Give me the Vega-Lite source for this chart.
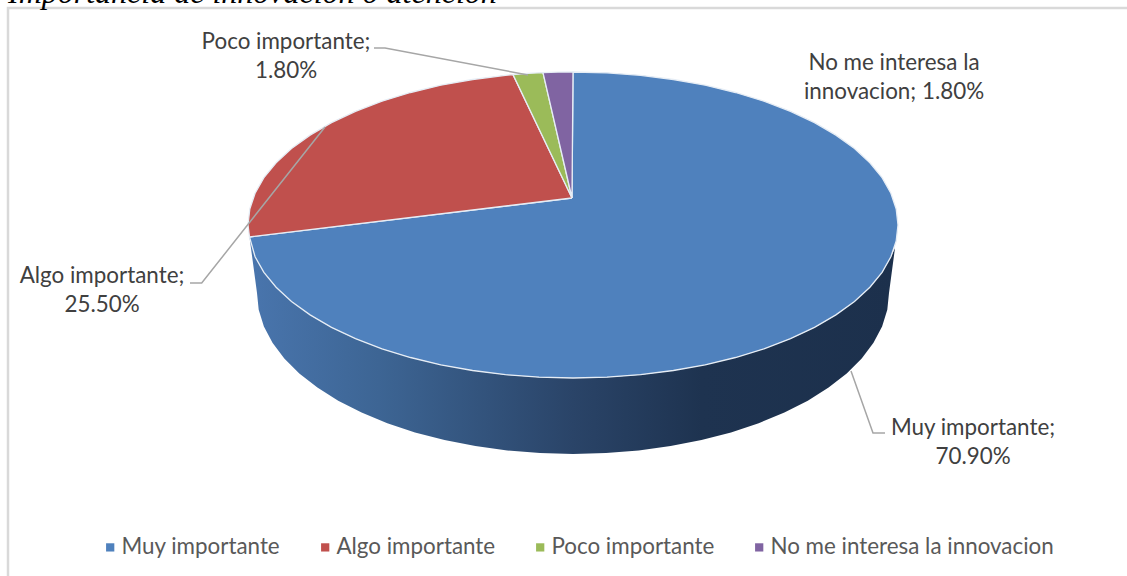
{
  "$schema": "https://vega.github.io/schema/vega-lite/v6.json",
  "description": "Importancia de innovación o atención: tilted pie with a shaded side wall, drawn as outlines in chart units",
  "width": 1127,
  "height": 576,
  "autosize": "none",
  "padding": 0,
  "background": "white",
  "config": {"view": {"stroke": null}},
  "datasets": {
    "frame": [{"left": 8, "right": 1140, "top": 8, "bottom": 600}],
    "wall": [
      {"n":1,"x":895,"y":248},{"n":2,"x":890.9,"y":256.8},{"n":3,"x":882.1,"y":272.3},{"n":4,"x":869.9,"y":287.2},{"n":5,"x":854.5,"y":301.5},{"n":6,"x":835.9,"y":314.9},{"n":7,"x":814.5,"y":327.4},{"n":8,"x":790.5,"y":338.7},{"n":9,"x":764,"y":348.8},{"n":10,"x":735.5,"y":357.5},{"n":11,"x":705.2,"y":364.8},{"n":12,"x":673.4,"y":370.5},{"n":13,"x":640.6,"y":374.7},{"n":14,"x":607,"y":377.2},{"n":15,"x":573,"y":378},{"n":16,"x":539,"y":377.2},{"n":17,"x":505.4,"y":374.7},{"n":18,"x":472.6,"y":370.5},{"n":19,"x":440.8,"y":364.8},{"n":20,"x":410.5,"y":357.5},{"n":21,"x":382,"y":348.8},{"n":22,"x":355.5,"y":338.7},{"n":23,"x":331.5,"y":327.4},{"n":24,"x":310.1,"y":314.9},{"n":25,"x":291.5,"y":301.5},{"n":26,"x":276.1,"y":287.2},{"n":27,"x":263.9,"y":272.3},{"n":28,"x":255.1,"y":256.8},{"n":29,"x":249.5,"y":237},
      {"n":30,"x":257,"y":293},{"n":31,"x":258.7,"y":309.8},{"n":32,"x":263.9,"y":326.5},{"n":33,"x":272.5,"y":342.7},{"n":34,"x":284.3,"y":358.5},{"n":35,"x":299.3,"y":373.5},{"n":36,"x":317.4,"y":387.6},{"n":37,"x":338.2,"y":400.7},{"n":38,"x":361.6,"y":412.6},{"n":39,"x":387.3,"y":423.2},{"n":40,"x":415,"y":432.4},{"n":41,"x":444.5,"y":440.1},{"n":42,"x":475.4,"y":446.1},{"n":43,"x":507.3,"y":450.5},{"n":44,"x":540,"y":453.1},{"n":45,"x":573,"y":454},{"n":46,"x":606,"y":453.1},{"n":47,"x":638.7,"y":450.5},{"n":48,"x":670.6,"y":446.1},{"n":49,"x":701.5,"y":440.1},{"n":50,"x":731,"y":432.4},{"n":51,"x":758.7,"y":423.2},{"n":52,"x":784.4,"y":412.6},{"n":53,"x":807.8,"y":400.7},{"n":54,"x":828.6,"y":387.6},{"n":55,"x":846.7,"y":373.5},{"n":56,"x":861.7,"y":358.5},{"n":57,"x":873.5,"y":342.7},{"n":58,"x":882.1,"y":326.5},{"n":59,"x":887.3,"y":309.8},{"n":60,"x":889,"y":293},{"n":61,"x":895,"y":248}
    ],
    "slices": [
      {"slice":"Muy importante","n":0,"x":572,"y":198},{"slice":"Muy importante","n":1,"x":573,"y":72},{"slice":"Muy importante","n":2,"x":607,"y":72.8},{"slice":"Muy importante","n":3,"x":640.6,"y":75.3},{"slice":"Muy importante","n":4,"x":673.4,"y":79.5},{"slice":"Muy importante","n":5,"x":705.2,"y":85.2},{"slice":"Muy importante","n":6,"x":735.5,"y":92.5},{"slice":"Muy importante","n":7,"x":764,"y":101.2},{"slice":"Muy importante","n":8,"x":790.5,"y":111.3},{"slice":"Muy importante","n":9,"x":814.5,"y":122.6},{"slice":"Muy importante","n":10,"x":835.9,"y":135.1},{"slice":"Muy importante","n":11,"x":854.5,"y":148.5},{"slice":"Muy importante","n":12,"x":869.9,"y":162.8},{"slice":"Muy importante","n":13,"x":882.1,"y":177.7},{"slice":"Muy importante","n":14,"x":890.9,"y":193.2},{"slice":"Muy importante","n":15,"x":896.2,"y":209},{"slice":"Muy importante","n":16,"x":898,"y":225},{"slice":"Muy importante","n":17,"x":896.2,"y":241},{"slice":"Muy importante","n":18,"x":890.9,"y":256.8},{"slice":"Muy importante","n":19,"x":882.1,"y":272.3},{"slice":"Muy importante","n":20,"x":869.9,"y":287.2},{"slice":"Muy importante","n":21,"x":854.5,"y":301.5},{"slice":"Muy importante","n":22,"x":835.9,"y":314.9},{"slice":"Muy importante","n":23,"x":814.5,"y":327.4},{"slice":"Muy importante","n":24,"x":790.5,"y":338.7},{"slice":"Muy importante","n":25,"x":764,"y":348.8},{"slice":"Muy importante","n":26,"x":735.5,"y":357.5},{"slice":"Muy importante","n":27,"x":705.2,"y":364.8},{"slice":"Muy importante","n":28,"x":673.4,"y":370.5},{"slice":"Muy importante","n":29,"x":640.6,"y":374.7},{"slice":"Muy importante","n":30,"x":607,"y":377.2},{"slice":"Muy importante","n":31,"x":573,"y":378},{"slice":"Muy importante","n":32,"x":539,"y":377.2},{"slice":"Muy importante","n":33,"x":505.4,"y":374.7},{"slice":"Muy importante","n":34,"x":472.6,"y":370.5},{"slice":"Muy importante","n":35,"x":440.8,"y":364.8},{"slice":"Muy importante","n":36,"x":410.5,"y":357.5},{"slice":"Muy importante","n":37,"x":382,"y":348.8},{"slice":"Muy importante","n":38,"x":355.5,"y":338.7},{"slice":"Muy importante","n":39,"x":331.5,"y":327.4},{"slice":"Muy importante","n":40,"x":310.1,"y":314.9},{"slice":"Muy importante","n":41,"x":291.5,"y":301.5},{"slice":"Muy importante","n":42,"x":276.1,"y":287.2},{"slice":"Muy importante","n":43,"x":263.9,"y":272.3},{"slice":"Muy importante","n":44,"x":255.1,"y":256.8},{"slice":"Muy importante","n":45,"x":249.5,"y":237},{"slice":"Muy importante","n":46,"x":572,"y":198},
      {"slice":"Algo importante","n":0,"x":572,"y":198},{"slice":"Algo importante","n":1,"x":249.5,"y":237},{"slice":"Algo importante","n":2,"x":248,"y":225},{"slice":"Algo importante","n":3,"x":249.8,"y":209},{"slice":"Algo importante","n":4,"x":255.1,"y":193.2},{"slice":"Algo importante","n":5,"x":263.9,"y":177.7},{"slice":"Algo importante","n":6,"x":276.1,"y":162.8},{"slice":"Algo importante","n":7,"x":291.5,"y":148.5},{"slice":"Algo importante","n":8,"x":310.1,"y":135.1},{"slice":"Algo importante","n":9,"x":331.5,"y":122.6},{"slice":"Algo importante","n":10,"x":355.5,"y":111.3},{"slice":"Algo importante","n":11,"x":382,"y":101.2},{"slice":"Algo importante","n":12,"x":410.5,"y":92.5},{"slice":"Algo importante","n":13,"x":440.8,"y":85.2},{"slice":"Algo importante","n":14,"x":472.6,"y":79.5},{"slice":"Algo importante","n":15,"x":505.4,"y":75.3},{"slice":"Algo importante","n":16,"x":513,"y":74.6},{"slice":"Algo importante","n":17,"x":572,"y":198},
      {"slice":"Poco importante","n":0,"x":572,"y":198},{"slice":"Poco importante","n":1,"x":513,"y":74.6},{"slice":"Poco importante","n":2,"x":528,"y":73.4},{"slice":"Poco importante","n":3,"x":543,"y":72.6},{"slice":"Poco importante","n":4,"x":572,"y":198},
      {"slice":"No me interesa la innovacion","n":0,"x":572,"y":198},{"slice":"No me interesa la innovacion","n":1,"x":543,"y":72.6},{"slice":"No me interesa la innovacion","n":2,"x":558,"y":72.1},{"slice":"No me interesa la innovacion","n":3,"x":573,"y":72},{"slice":"No me interesa la innovacion","n":4,"x":572,"y":198}
    ],
    "leaders": [
      {"leader":"Poco","n":1,"x":374,"y":48},{"leader":"Poco","n":2,"x":385,"y":48},{"leader":"Poco","n":3,"x":528,"y":75},
      {"leader":"Algo","n":1,"x":190,"y":283},{"leader":"Algo","n":2,"x":201.7,"y":283},{"leader":"Algo","n":3,"x":325,"y":127},
      {"leader":"Muy","n":1,"x":885,"y":433},{"leader":"Muy","n":2,"x":873,"y":433},{"leader":"Muy","n":3,"x":851,"y":371}
    ],
    "labels": [
      {"text":"Poco importante;\n1.80%","x":286,"y":42},
      {"text":"No me interesa la\ninnovacion; 1.80%","x":894,"y":63},
      {"text":"Algo importante;\n25.50%","x":102,"y":276},
      {"text":"Muy importante;\n70.90%","x":973,"y":428}
    ],
    "heading": [{"text":"Importancia de innovación o atención","x":8,"y":3}]
  },
  "encoding": {
    "x": {"type": "quantitative", "scale": {"domain": [0, 1127], "nice": false, "zero": false}, "axis": null},
    "y": {"type": "quantitative", "scale": {"domain": [576, 0], "nice": false, "zero": false}, "axis": null}
  },
  "layer": [
    {
      "data": {"name": "frame"},
      "mark": {"type": "rect", "fill": null, "stroke": "#d9d9d9", "strokeWidth": 2.5},
      "encoding": {
        "x": {"field": "left"},
        "x2": {"field": "right"},
        "y": {"field": "top"},
        "y2": {"field": "bottom"}
      }
    },
    {
      "data": {"name": "wall"},
      "mark": {
        "type": "line",
        "strokeWidth": 0,
        "fill": {
          "gradient": "linear", "x1": 0, "y1": 0, "x2": 1, "y2": 0,
          "stops": [
            {"offset": 0, "color": "#4975ad"},
            {"offset": 0.2, "color": "#3d6594"},
            {"offset": 0.5, "color": "#2a4468"},
            {"offset": 0.7, "color": "#1e3350"},
            {"offset": 1, "color": "#1c304c"}
          ]
        }
      },
      "encoding": {
        "x": {"field": "x"},
        "y": {"field": "y"},
        "order": {"field": "n"}
      }
    },
    {
      "data": {"name": "slices"},
      "mark": {"type": "line", "stroke": "#e6edf5", "strokeWidth": 1.3},
      "encoding": {
        "x": {"field": "x"},
        "y": {"field": "y"},
        "order": {"field": "n"},
        "detail": {"field": "slice"},
        "fill": {
          "field": "slice",
          "type": "nominal",
          "scale": {
            "domain": ["Muy importante", "Algo importante", "Poco importante", "No me interesa la innovacion"],
            "range": ["#4f81bd", "#c0504d", "#9bbb59", "#8064a2"]
          },
          "legend": {
            "title": null,
            "orient": "none",
            "legendX": 99,
            "legendY": 536,
            "direction": "horizontal",
            "columns": 4,
            "columnPadding": 33,
            "symbolType": "square",
            "symbolSize": 68,
            "symbolStrokeWidth": 0,
            "labelFont": "Lato",
            "labelFontSize": 22.4,
            "labelColor": "#595959",
            "labelLimit": 400,
            "labelOffset": 0
          }
        }
      }
    },
    {
      "data": {"name": "leaders"},
      "mark": {"type": "line", "color": "#a6a6a6", "strokeWidth": 1.5},
      "encoding": {
        "x": {"field": "x"},
        "y": {"field": "y"},
        "order": {"field": "n"},
        "detail": {"field": "leader"}
      }
    },
    {
      "data": {"name": "labels"},
      "mark": {"type": "text", "font": "Lato", "fontSize": 22.4, "color": "#404040", "align": "center", "baseline": "middle", "lineBreak": "\n", "lineHeight": 29},
      "encoding": {
        "x": {"field": "x"},
        "y": {"field": "y"},
        "text": {"field": "text"}
      }
    },
    {
      "data": {"name": "heading"},
      "mark": {"type": "text", "font": "Liberation Serif", "fontStyle": "italic", "fontSize": 32, "color": "#000000", "align": "left", "baseline": "alphabetic"},
      "encoding": {
        "x": {"field": "x"},
        "y": {"field": "y"},
        "text": {"field": "text"}
      }
    }
  ]
}
